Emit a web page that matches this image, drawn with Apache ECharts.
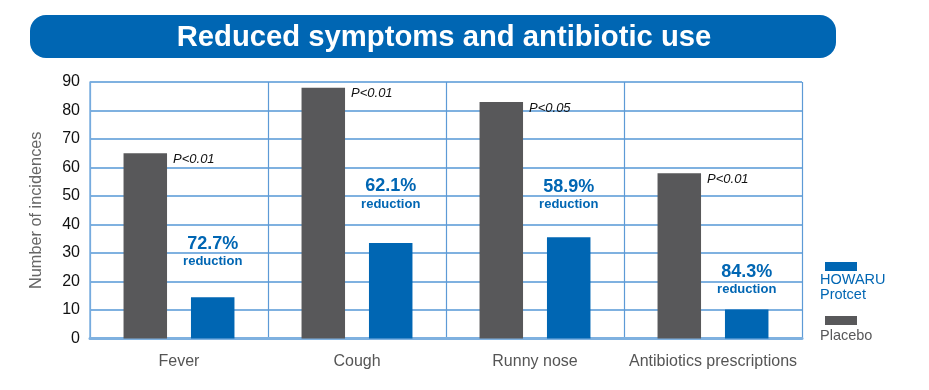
<!DOCTYPE html>
<html><head><meta charset="utf-8">
<script src="https://cdn.jsdelivr.net/npm/echarts@6/dist/echarts.min.js"></script>
<style>html,body{margin:0;padding:0;background:#fff}#c{width:929px;height:390px}</style>
</head><body><div id="c"></div>
<script>
const categories = ['Fever', 'Cough', 'Runny nose', 'Antibiotics prescriptions'];
const placebo = [65, 88, 83, 58];
const howaru = [14.5, 33.5, 35.5, 10.2];
const pValues = ['P<0.01', 'P<0.01', 'P<0.05', 'P<0.01'];
const reductions = ['72.7%', '62.1%', '58.9%', '84.3%'];
const yTicks = [0, 10, 20, 30, 40, 50, 60, 70, 80, 90];

const BLUE = '#0066b3', GREY = '#58585a', GRID = '#7fb1e0';
const FONT = '"Liberation Sans", Arial, sans-serif';
const labelGap = [28, 31, 25, 12];

const chart = echarts.init(document.getElementById('c'));
chart.setOption({
  animation: false,
  graphic: [
    { type: 'rect', shape: { x: 30, y: 15, width: 806, height: 43, r: 16 }, style: { fill: BLUE } },
    { type: 'text', x: 444, y: 38, scaleX: 0.975, style: { text: 'Reduced symptoms and antibiotic use', fill: '#fff',
      font: 'bold 30px ' + FONT, align: 'center', verticalAlign: 'middle' } },
    { type: 'text', x: 820, y: 272, style: { text: 'HOWARU\nProtcet', fill: BLUE, lineHeight: 15,
      font: '14.5px ' + FONT, align: 'left', verticalAlign: 'top' } },
    { type: 'text', x: 820, y: 328, style: { text: 'Placebo', fill: '#58585a',
      font: '14.5px ' + FONT, align: 'left', verticalAlign: 'top' } }
  ],
  legend: {
    orient: 'vertical', left: 820, top: 257, itemWidth: 32, itemHeight: 9, itemGap: 45,
    icon: 'rect', formatter: () => '', selectedMode: false,
    data: ['HOWARU Protcet', 'Placebo']
  },
  grid: { left: 90, right: 127, top: 82, bottom: 51.5 },
  xAxis: {
    type: 'category', data: categories, boundaryGap: true,
    axisLine: { show: true, lineStyle: { color: '#7fb1e0', width: 3 } },
    axisTick: { show: false },
    axisLabel: { interval: 0, color: '#555', fontSize: 16, margin: 15, fontFamily: FONT },
    splitLine: { show: true, interval: 0, lineStyle: { color: '#5d9ad6', width: 1.2 } }
  },
  yAxis: {
    type: 'value', min: 0, max: 90, interval: 10,
    name: 'Number of incidences', nameLocation: 'middle', nameGap: 45, nameRotate: 90,
    nameTextStyle: { color: '#666', fontSize: 16.3, fontFamily: FONT },
    axisLine: { show: true, lineStyle: { color: GRID, width: 1.5 } },
    axisTick: { show: false },
    axisLabel: { color: '#111', fontSize: 16, margin: 10, fontFamily: FONT,
      formatter: v => yTicks.includes(v) ? String(v) : '' },
    splitLine: { show: true, lineStyle: { color: GRID, width: 1.8 } }
  },
  series: [
    {
      name: 'Placebo', type: 'bar', barWidth: 43.5, barGap: '55%',
      itemStyle: { color: GREY },
      data: placebo.map((v, i) => ({ value: v, label: { formatter: pValues[i] } })),
      label: { show: true, position: ['100%', 0], offset: [6, 6], align: 'left', verticalAlign: 'middle',
        color: '#111', fontSize: 13, fontStyle: 'italic', fontFamily: FONT }
    },
    {
      name: 'HOWARU Protcet', type: 'bar', barWidth: 43.5,
      itemStyle: { color: BLUE },
      data: howaru.map((v, i) => ({ value: v, label: { distance: labelGap[i], formatter: '{a|' + reductions[i] + '}\n{b|reduction}' } })),
      label: { show: true, position: 'top', align: 'center',
        rich: {
          a: { color: BLUE, fontSize: 18, fontWeight: 'bold', lineHeight: 19, align: 'center', fontFamily: FONT },
          b: { color: BLUE, fontSize: 13, fontWeight: 'bold', lineHeight: 16, align: 'center', fontFamily: FONT }
        } }
    }
  ]
});
</script></body></html>
